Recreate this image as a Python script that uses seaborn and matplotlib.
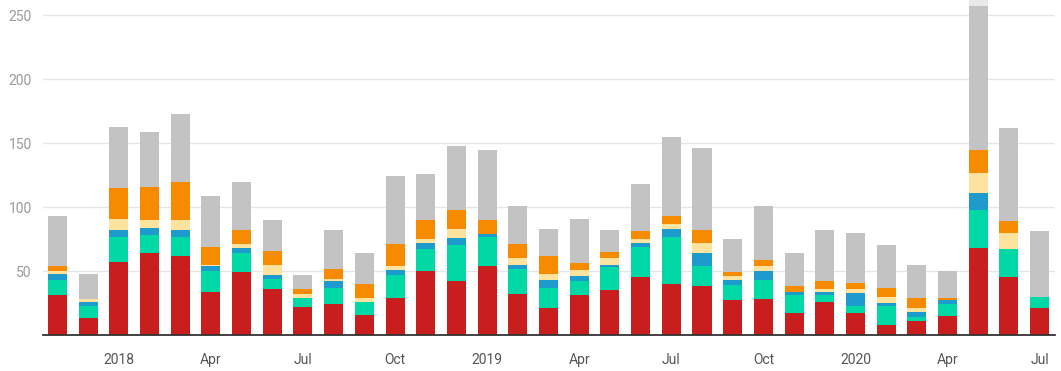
import numpy as np
import pandas as pd
import matplotlib
matplotlib.use("Agg")
import matplotlib.pyplot as plt
import seaborn as sns

# monthly categories, Nov 2017 .. Jul 2020
months = pd.date_range("2017-11-01", periods=33, freq="MS")

# stacked segment heights, bottom to top
red = [31, 13, 57, 64, 62, 34, 49, 36, 22, 24, 16, 29, 50, 42, 54, 32, 21,
       31, 35, 45, 40, 38, 27, 28, 17, 26, 17, 8, 11, 15, 68, 45, 21]
teal = [12, 10, 20, 14, 15, 16, 15, 8, 7, 13, 10, 18, 17, 28, 23, 20, 16,
        11, 18, 24, 37, 16, 12, 15, 14, 5, 6, 15, 3, 9, 30, 22, 9]
blue = [5, 3, 5, 6, 5, 4, 4, 3, 0, 5, 0, 4, 5, 6, 2, 3, 6,
        4, 2, 3, 6, 10, 4, 7, 3, 3, 10, 2, 4, 3, 13, 0, 0]
yellow = [2, 2, 9, 6, 8, 1, 3, 8, 3, 2, 3, 3, 3, 7, 0, 5, 5,
          5, 5, 3, 4, 8, 3, 4, 0, 2, 3, 5, 3, 0, 16, 13, 0]
orange = [4, 0, 24, 26, 30, 14, 11, 11, 4, 8, 11, 17, 15, 15, 11, 11, 14,
          5, 5, 6, 6, 10, 3, 5, 4, 6, 5, 7, 8, 2, 18, 9, 0]
gray = [39, 20, 48, 43, 53, 40, 38, 24, 11, 30, 24, 53, 36, 50, 55, 30, 21,
        35, 17, 37, 62, 64, 26, 42, 26, 40, 39, 33, 26, 21, 112, 73, 51]
other = [0] * 30 + [12, 0, 0]

series = ["red", "teal", "blue", "yellow", "orange", "gray", "other"]
colors = ["#c81e1e", "#00d9a5", "#1c9bcc", "#fde39d", "#f68b00", "#c3c3c3", "#e9e9e9"]

df = pd.DataFrame({"month": months.strftime("%Y-%m"), "red": red, "teal": teal,
                   "blue": blue, "yellow": yellow, "orange": orange,
                   "gray": gray, "other": other})
cum = df[series].cumsum(axis=1)
cum["month"] = df["month"]

sns.set_style("white")
plt.rcParams["font.family"] = ["Roboto", "DejaVu Sans"]

fig = plt.figure(figsize=(10.61, 3.71), dpi=100)
ax = fig.add_axes([43 / 1061, 1 - 335 / 371, (1055 - 43) / 1061, 335 / 371])

# draw cumulative totals from the top layer down so lower layers cover them
for name, c in zip(series[::-1], colors[::-1]):
    sns.barplot(data=cum, x="month", y=name, color=c, saturation=1,
                width=0.62, linewidth=0, errorbar=None, ax=ax)

ax.set_xlim(-0.47, 32.5)
ax.set_ylim(0, 262)
ax.set_xlabel("")
ax.set_ylabel("")

ax.set_yticks([50, 100, 150, 200, 250])
ax.yaxis.grid(True, color="#e6e6e6", linewidth=1)
ax.set_axisbelow(True)
ax.tick_params(axis="y", length=0, pad=8, labelsize=10, labelcolor="#9a9a9a")

tick_pos = [i for i, m in enumerate(months) if m.month in (1, 4, 7, 10)]
tick_lab = [str(m.year) if m.month == 1 else m.strftime("%b") for m in months[tick_pos]]
ax.set_xticks(tick_pos)
ax.set_xticklabels(tick_lab)
ax.tick_params(axis="x", length=4, width=1, color="#333333", pad=9,
               labelsize=10, labelcolor="#555555")

for s in ["top", "right", "left"]:
    ax.spines[s].set_visible(False)
ax.spines["bottom"].set_color("#333333")
ax.spines["bottom"].set_linewidth(1.3)

fig.savefig("out.png", dpi=100)
